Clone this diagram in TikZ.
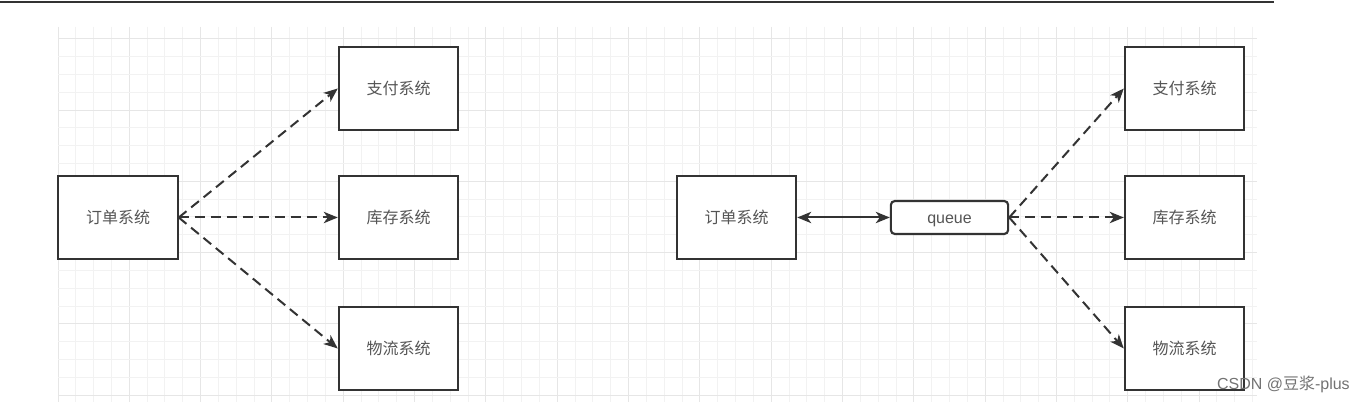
\documentclass[tikz,border=0pt]{standalone}
\usepackage{fontspec}
\setmainfont{Liberation Sans}
\newfontfamily\cjk{Noto Sans CJK SC}
\usetikzlibrary{arrows.meta}
\definecolor{edge}{HTML}{333333}
\definecolor{txt}{HTML}{555555}
\definecolor{gminor}{HTML}{F2F2F2}
\definecolor{gmajor}{HTML}{E6E6E6}
\tikzset{
  sysbox/.style={draw=edge, line width=1.6pt, fill=white, minimum width=89.5pt, minimum height=62.25pt, inner sep=0pt, text=txt, font=\cjk\fontsize{12pt}{13pt}\selectfont},
  qbox/.style={draw=edge, line width=1.6pt, fill=white, rounded corners=3pt, minimum width=88pt, minimum height=24.75pt, inner sep=0pt},
  qtext/.style={anchor=base, inner sep=0pt, text=txt, font=\fontsize{12pt}{13pt}\selectfont},
  dasharrow/.style={draw=edge, line width=1.5pt, dash pattern=on 7.5pt off 4.5pt, -{Stealth[length=10.5pt,width=8.5pt,inset=3pt]}},
  dblarrow/.style={draw=edge, line width=1.5pt, {Stealth[length=10.5pt,width=8.5pt,inset=3pt]}-{Stealth[length=10.5pt,width=8.5pt,inset=3pt]}},
  minorline/.style={draw=gminor, line width=0.75pt},
  majorline/.style={draw=gmajor, line width=0.75pt}
}
\begin{document}
\begin{tikzpicture}[x=0.75pt,y=-0.75pt]
\useasboundingbox (0,0) rectangle (1366,402);
\fill[white] (0,0) rectangle (1366,402);
\begin{scope}
\clip (58,27) rectangle (1257,402);
\foreach \i in {0,...,68} {
  \pgfmathtruncatemacro{\m}{mod(\i,4)}
  \ifnum\m=0 \draw[majorline] ({58+17.83*\i},27) -- ({58+17.83*\i},402);
  \else \draw[minorline] ({58+17.83*\i},27) -- ({58+17.83*\i},402); \fi
}
\foreach \j in {-1,...,21} {
  \pgfmathtruncatemacro{\m}{mod(\j+4,4)}
  \ifnum\m=0 \draw[majorline] (58,{38.7+17.83*\j}) -- (1257,{38.7+17.83*\j});
  \else \draw[minorline] (58,{38.7+17.83*\j}) -- (1257,{38.7+17.83*\j}); \fi
}
\end{scope}
\draw[edge, line width=1.5pt] (0,2) -- (1274,2);

% left diagram
\node[sysbox] (lo) at (118,217.5) {订单系统};
\node[sysbox] (lpay) at (398.5,88.5) {支付系统};
\node[sysbox] (lstock) at (398.5,217.5) {库存系统};
\node[sysbox] (llog) at (398.5,348.5) {物流系统};
\draw[dasharrow] (lo.east) -- (lpay.west);
\draw[dasharrow] (lo.east) -- (lstock.west);
\draw[dasharrow] (lo.east) -- (llog.west);

% right diagram
\node[sysbox] (ro) at (736.5,217.5) {订单系统};
\node[qbox] (q) at (949.5,217.5) {};
\node[qtext] (qt) at ([yshift=-4.8pt]q.center) {queue};
\node[sysbox] (rpay) at (1184.5,88.5) {支付系统};
\node[sysbox] (rstock) at (1184.5,217.5) {库存系统};
\node[sysbox] (rlog) at (1184.5,348.5) {物流系统};
\draw[dblarrow] (ro.east) -- (q.west);
\draw[dasharrow] (q.east) -- (rpay.west);
\draw[dasharrow] (q.east) -- (rstock.west);
\draw[dasharrow] (q.east) -- (rlog.west);

\node[anchor=east, inner sep=0pt, text=black!55, font=\fontsize{12pt}{13pt}\selectfont] (wm) at (1350,384) {CSDN @{\cjk 豆浆}-plus};
\end{tikzpicture}
\end{document}
